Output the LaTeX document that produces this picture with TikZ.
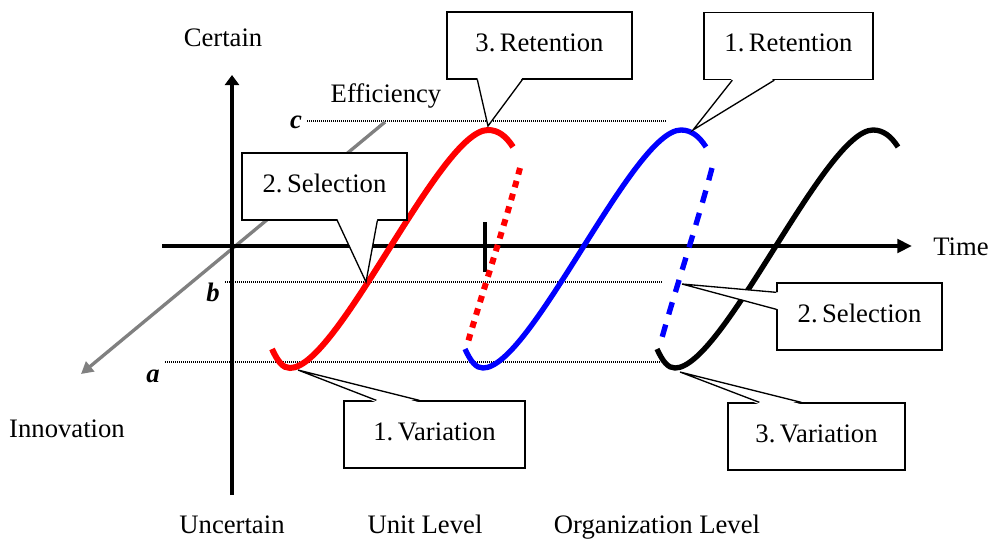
\documentclass[tikz,border=0pt]{standalone}
\usepackage{fontspec}
\setmainfont{Liberation Serif}
\usetikzlibrary{arrows.meta,calc}

\tikzset{
  callbox/.style={draw, line width=1pt, fill=white, minimum height=50.25pt, inner sep=0pt, text depth=4.5pt},
  callline/.style={line width=1pt},
  guide/.style={line width=0.8pt, dash pattern=on 0.75pt off 0.75pt},
  axis/.style={line width=3.5pt},
  curve/.style={line width=4pt},
}

\begin{document}
\begin{tikzpicture}[x=0.75pt, y=-0.75pt, font=\fontsize{20}{24}\selectfont]
      \useasboundingbox (0,0) rectangle (991,542);
      % levels a, b, c
      \draw[guide] (307,121) -- (667,121);
      \draw[guide] (225,282) -- (663,282);
      \draw[guide] (165,362) -- (660,362);
      \node[anchor=base] (lvlC) at (296,128) {\textbf{\textit{c}}};
      \node[anchor=base] (lvlB) at (213,301) {\textbf{\textit{b}}};
      \node[anchor=base] (lvlA) at (153,382) {\textbf{\textit{a}}};
      % axes
      \draw[gray, line width=2.5pt, -{Triangle[length=9pt,width=9.5pt]}] (385,122) -- (81,374);
      \draw[axis, -{Triangle[length=7.5pt,width=10.5pt]}] (232,495) -- (232,75);
      \draw[axis, -{Triangle[length=11pt,width=10pt]}] (162,246) -- (912,246);
      \draw[axis] (485,222) -- (485,272);
      % unit level cycle
      \draw[curve, red, line width=4.5pt] (272,349) .. controls (278,362) and (283,368) .. (290,368)
            .. controls (338,368) and (440,130) .. (488,130)
            .. controls (498,130) and (506,136) .. (513,147);
      \draw[red, line width=4.5pt, dash pattern=on 5pt off 5pt] (520,168) .. controls (505,225) and (480,300) .. (468,342);
      % organization level cycle
      \draw[curve, blue] (465,349) .. controls (471,362) and (476,368) .. (483,368)
            .. controls (531,368) and (633,130) .. (681,130)
            .. controls (691,130) and (699,136) .. (706,147);
      \draw[blue, line width=4pt, dash pattern=on 9.5pt off 8pt] (712,168) .. controls (697,225) and (672,300) .. (660,345);
      \draw[curve] (657,349) .. controls (663,362) and (668,368) .. (675,368)
            .. controls (723,368) and (825,130) .. (873,130)
            .. controls (883,130) and (891,136) .. (898,147);
      % callouts
      \coordinate (retUnitTip) at (488,126);
      \coordinate (retOrgTip) at (693,130);
      \coordinate (selUnitTip) at (366,282);
      \coordinate (selOrgTip) at (682,284);
      \coordinate (varUnitTip) at (298,370);
      \coordinate (varOrgTip) at (680,372);
      \node[callbox, minimum width=138.75pt] (retUnit) at (539.5,45.5) {3.\,Retention};
      \fill[white] ($(retUnit.south west)+(31,-2)$) -- (retUnitTip) -- ($(retUnit.south west)+(76,-2)$) -- cycle;
      \draw[callline] ($(retUnit.south west)+(31,0)$) -- (retUnitTip) -- ($(retUnit.south west)+(76,0)$);
      \node[callbox, minimum width=126.75pt] (retOrg) at (788.5,46) {1.\,Retention};
      \fill[white] ($(retOrg.south west)+(29,-2)$) -- (retOrgTip) -- ($(retOrg.south west)+(71,-2)$) -- cycle;
      \draw[callline] ($(retOrg.south west)+(29,0)$) -- (retOrgTip) -- ($(retOrg.south west)+(71,0)$);
      \node[callbox, minimum width=123.75pt] (selUnit) at (324.5,186.5) {2.\,Selection};
      \fill[white] ($(selUnit.south west)+(96,-2)$) -- (selUnitTip) -- ($(selUnit.south west)+(136,-2)$) -- cycle;
      \draw[callline] ($(selUnit.south west)+(96,0)$) -- (selUnitTip) -- ($(selUnit.south west)+(136,0)$);
      \node[callbox, minimum width=123.75pt] (selOrg) at (859.5,316.5) {2.\,Selection};
      \fill[white] ($(selOrg.north west)+(2,10)$) -- (selOrgTip) -- ($(selOrg.north west)+(2,27)$) -- cycle;
      \draw[callline] ($(selOrg.north west)+(0,10)$) -- (selOrgTip) -- ($(selOrg.north west)+(0,27)$);
      \node[callbox, minimum width=135.75pt] (varUnit) at (434.5,434.5) {1.\,Variation};
      \fill[white] ($(varUnit.north west)+(33,2)$) -- (varUnitTip) -- ($(varUnit.north west)+(76,2)$) -- cycle;
      \draw[callline] ($(varUnit.north west)+(33,0)$) -- (varUnitTip) -- ($(varUnit.north west)+(76,0)$);
      \node[callbox, minimum width=132.75pt] (varOrg) at (816.5,436.5) {3.\,Variation};
      \fill[white] ($(varOrg.north west)+(32,2)$) -- (varOrgTip) -- ($(varOrg.north west)+(74,2)$) -- cycle;
      \draw[callline] ($(varOrg.north west)+(32,0)$) -- (varOrgTip) -- ($(varOrg.north west)+(74,0)$);
      % axis labels
      \node[anchor=base] (certain) at (223,46) {Certain};
      \node[anchor=base] (uncertain) at (232,533) {Uncertain};
      \node[anchor=base] (efficiency) at (386,102) {Efficiency};
      \node[anchor=base] (innovation) at (67,437) {Innovation};
      \node[anchor=base] (time) at (961,255) {Time};
      \node[anchor=base] (unitLvl) at (425,533) {Unit Level};
      \node[anchor=base] (orgLvl) at (657,533) {Organization Level};
    \end{tikzpicture}
\end{document}
